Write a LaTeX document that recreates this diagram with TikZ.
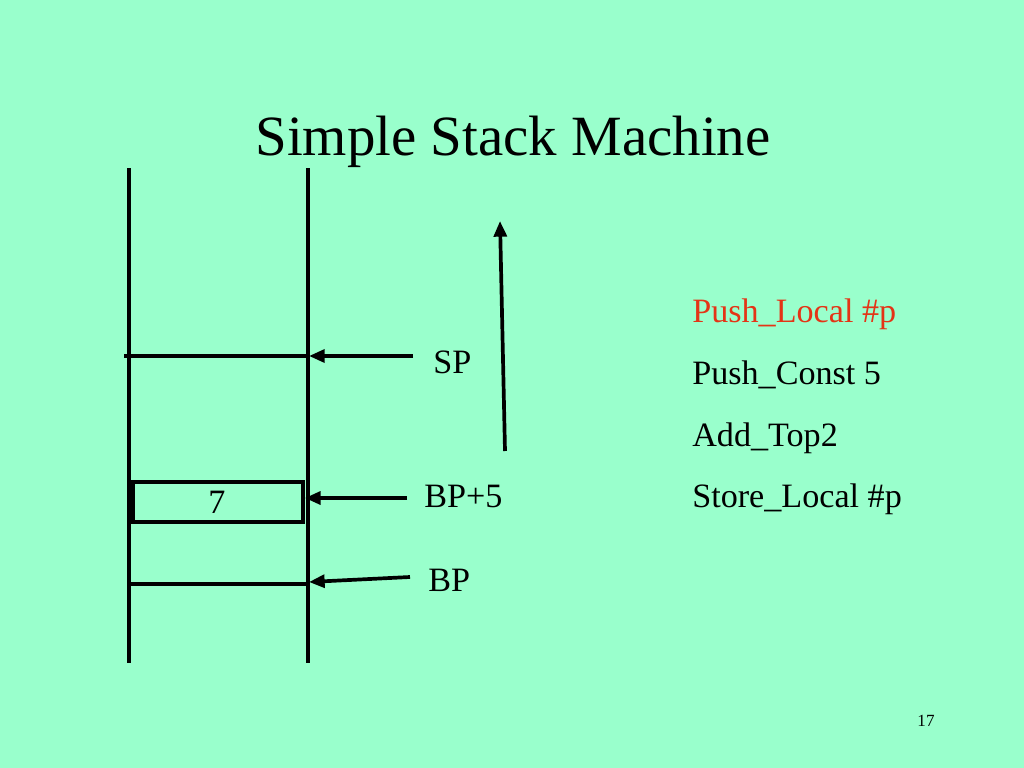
\documentclass[tikz,border=0pt]{standalone}
\usepackage{fontspec}
\setmainfont{Liberation Serif}
\usetikzlibrary{arrows.meta}
\definecolor{slidebg}{RGB}{153,255,204}
\definecolor{hotred}{RGB}{228,52,22}
\tikzset{
  wall/.style={line width=2.6pt},
  ptr/.style={line width=2.6pt,-{Triangle[length=11pt,width=9pt]}},
  lbl/.style={anchor=base west,inner sep=0pt,font=\fontsize{24}{28}\selectfont},
}
\begin{document}
\begin{tikzpicture}[x=0.703pt,y=-0.703pt]
\fill[slidebg] (0,0) rectangle (1024,768);
\useasboundingbox (0,0) rectangle (1024,768);
% title
\node[anchor=base,inner sep=0pt,font=\fontsize{40}{48}\selectfont] (title) at (513,155) {Simple Stack Machine};
% stack walls
\draw[wall] (129,168) -- (129,663);
\draw[wall] (308,168) -- (308,663);
\draw[wall] (124,356) -- (308,356);
\draw[wall] (129,584) -- (308,584);
% slot holding 7
\node[draw,line width=2.6pt,inner sep=0pt,
  minimum width=121pt,minimum height=28pt,font=\fontsize{24}{28}\selectfont] (slot) at (217,502) {7};
\fill (129,482) rectangle (135,522);
% pointer labels
\node[lbl] (sp) at (433,373) {SP};
\node[lbl] (bpf) at (424,507) {BP+5};
\node[lbl] (bp) at (428,591) {BP};
\coordinate (sptail) at (413,356);
\coordinate (sptip) at (309,356);
\coordinate (bpftail) at (407,498);
\coordinate (bpftip) at (slot.east |- bpftail);
\coordinate (bptail) at (410,577);
\coordinate (bptip) at (309,582);
\draw[ptr] (sptail) -- (sptip);
\draw[ptr] (bpftail) -- (bpftip);
\draw[ptr] (bptail) -- (bptip);
% growth direction
\coordinate (growlo) at (505,451);
\coordinate (growhi) at (500,221);
\draw[ptr] (growlo) -- (growhi);
% program
\node[lbl,text=hotred] (i1) at (692,322) {Push\_Local \#p};
\node[lbl] (i2) at (692,384) {Push\_Const 5};
\node[lbl] (i3) at (692,446) {Add\_Top2};
\node[lbl] (i4) at (692,507) {Store\_Local \#p};
% page number
\node[anchor=base,inner sep=0pt,font=\fontsize{12}{14}\selectfont] (pg) at (926,726) {17};
\end{tikzpicture}
\end{document}
